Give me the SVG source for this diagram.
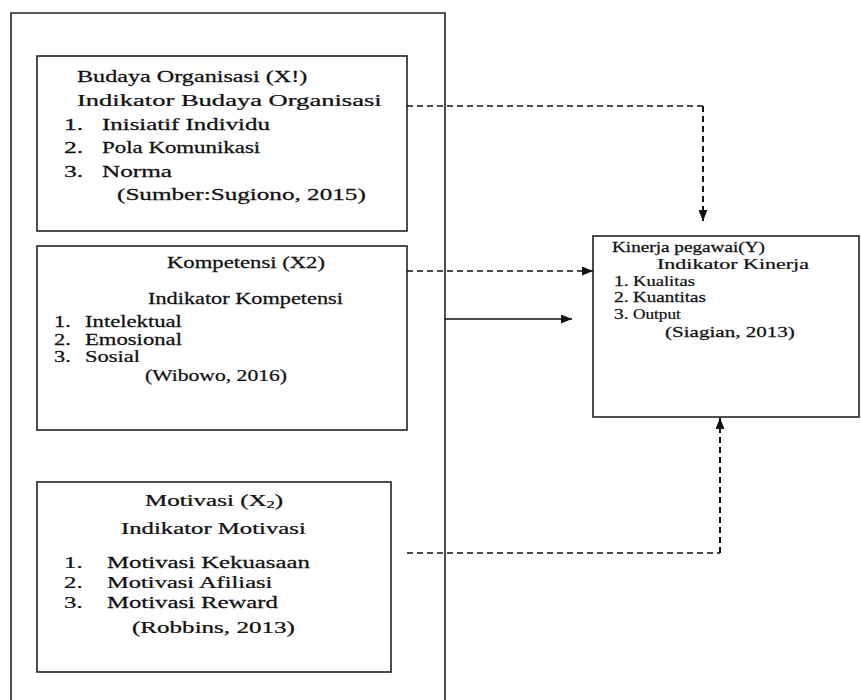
<svg xmlns="http://www.w3.org/2000/svg" width="861" height="700" viewBox="0 0 861 700" font-family="'Liberation Serif', 'DejaVu Serif', serif">
<style>
  .box { fill: #fff; stroke: #222; stroke-width: 1.6; }
  .frame { fill: none; stroke: #222; stroke-width: 1.6; }
  text { font-family: 'Liberation Serif', 'DejaVu Serif', serif; fill: #111; stroke: #111; stroke-width: 0.25; }
  .t16 { font-size: 16px; }
  .t15 { font-size: 15px; }
  .dash { fill: none; stroke: #111; stroke-width: 1.5; stroke-dasharray: 6 4; }
  .dashv { fill: none; stroke: #111; stroke-width: 2; stroke-dasharray: 6 4; }
  .solid { fill: none; stroke: #111; stroke-width: 1.5; }
</style>
<defs>
  <marker id="arr" markerUnits="userSpaceOnUse" markerWidth="11" markerHeight="9" refX="11" refY="4.5" orient="auto">
    <path d="M0,0 L11,4.5 L0,9 z" fill="#111"/>
  </marker>
</defs>
<rect width="861" height="700" fill="#fff"/>

<g id="outer">
  <path class="frame" d="M11,705 V13 H445 V705"/>
</g>

<g id="budaya">
  <rect class="box" x="37" y="56" width="370" height="175"/>
  <text class="t16" transform="translate(77,82) scale(1.51,1)">Budaya Organisasi (X!)</text>
  <text class="t16" transform="translate(77,106) scale(1.66,1)">Indikator Budaya Organisasi</text>
  <text class="t16" transform="translate(64,130) scale(1.6,1)">1.</text>
  <text class="t16" transform="translate(102,130) scale(1.556,1)">Inisiatif Individu</text>
  <text class="t16" transform="translate(64,153) scale(1.6,1)">2.</text>
  <text class="t16" transform="translate(102,153) scale(1.43,1)">Pola Komunikasi</text>
  <text class="t16" transform="translate(64,177) scale(1.6,1)">3.</text>
  <text class="t16" transform="translate(102,177) scale(1.576,1)">Norma</text>
  <text class="t16" transform="translate(117,200) scale(1.574,1)">(Sumber:Sugiono, 2015)</text>
</g>

<g id="kompetensi">
  <rect class="box" x="37" y="246" width="370" height="184"/>
  <text class="t16" transform="translate(167,268) scale(1.417,1)">Kompetensi (X2)</text>
  <text class="t16" transform="translate(148,304) scale(1.393,1)">Indikator Kompetensi</text>
  <text class="t16" transform="translate(54,327) scale(1.4,1)">1.</text>
  <text class="t16" transform="translate(85,327) scale(1.418,1)">Intelektual</text>
  <text class="t16" transform="translate(54,345) scale(1.4,1)">2.</text>
  <text class="t16" transform="translate(85,345) scale(1.418,1)">Emosional</text>
  <text class="t16" transform="translate(54,362) scale(1.4,1)">3.</text>
  <text class="t16" transform="translate(85,362) scale(1.406,1)">Sosial</text>
  <text class="t16" transform="translate(145,381) scale(1.352,1)">(Wibowo, 2016)</text>
</g>

<g id="motivasi">
  <rect class="box" x="37" y="482" width="354" height="190"/>
  <text class="t16" transform="translate(145,506) scale(1.563,1)">Motivasi (X<tspan font-size="10.5" dy="2">2</tspan><tspan dy="-2">)</tspan></text>
  <text class="t16" transform="translate(121,534) scale(1.547,1)">Indikator Motivasi</text>
  <text class="t16" transform="translate(64,568) scale(1.55,1)">1.</text>
  <text class="t16" transform="translate(107,568) scale(1.548,1)">Motivasi Kekuasaan</text>
  <text class="t16" transform="translate(64,588) scale(1.55,1)">2.</text>
  <text class="t16" transform="translate(107,588) scale(1.533,1)">Motivasi Afiliasi</text>
  <text class="t16" transform="translate(64,608) scale(1.55,1)">3.</text>
  <text class="t16" transform="translate(107,608) scale(1.545,1)">Motivasi Reward</text>
  <text class="t16" transform="translate(132,633) scale(1.567,1)">(Robbins, 2013)</text>
</g>

<g id="kinerja">
  <rect class="box" x="593" y="236" width="266" height="181"/>
  <text class="t15" transform="translate(612,252) scale(1.28,1)">Kinerja pegawai(Y)</text>
  <text class="t15" transform="translate(657,269) scale(1.466,1)">Indikator Kinerja</text>
  <text class="t15" transform="translate(614,286) scale(1.3,1)">1.</text>
  <text class="t15" transform="translate(633,286) scale(1.24,1)">Kualitas</text>
  <text class="t15" transform="translate(614,302) scale(1.3,1)">2.</text>
  <text class="t15" transform="translate(633,302) scale(1.27,1)">Kuantitas</text>
  <text class="t15" transform="translate(614,319) scale(1.3,1)">3.</text>
  <text class="t15" transform="translate(633,319) scale(1.15,1)">Output</text>
  <text class="t15" transform="translate(665,337) scale(1.405,1)">(Siagian, 2013)</text>
</g>

<g id="connectors">
  <path class="dash" d="M407,106 H703"/>
  <path class="dashv" d="M703,106 V221" marker-end="url(#arr)"/>
  <path class="dash" d="M407,271 H593" marker-end="url(#arr)"/>
  <path class="solid" d="M445,319 H572" marker-end="url(#arr)"/>
  <path class="dash" d="M407,553 H720"/>
  <path class="dashv" d="M720,553 V418" marker-end="url(#arr)"/>
</g>
</svg>
